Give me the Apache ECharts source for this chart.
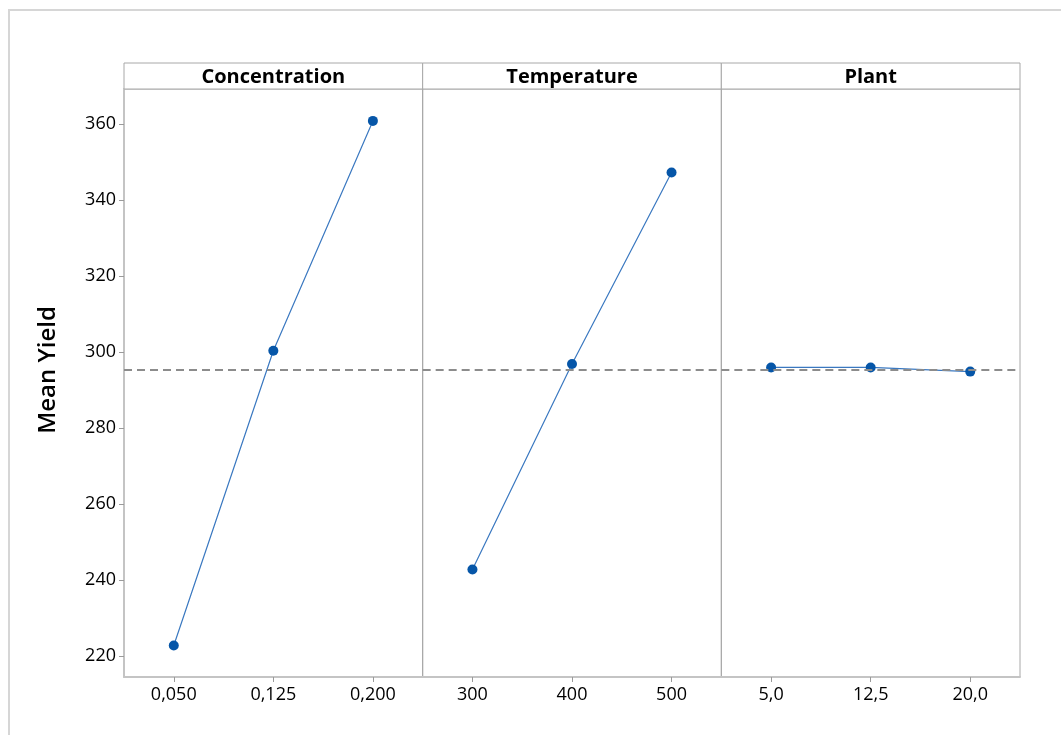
<!DOCTYPE html>
<html>
<head>
<meta charset="utf-8">
<script src="https://cdn.jsdelivr.net/npm/echarts@6/dist/echarts.min.js"></script>
<style>
  html, body { margin: 0; padding: 0; background: #fff; }
  #chart { width: 1061px; height: 735px; }
</style>
</head>
<body>
<div id="chart"></div>
<script>
// Main effects of each factor on mean yield
const factors = ['Concentration', 'Temperature', 'Plant'];
const concentrationLevels = ['0,050', '0,125', '0,200'];
const temperatureLevels = ['300', '400', '500'];
const plantLevels = ['5,0', '12,5', '20,0'];
const concentrationMeans = [222.8, 300.4, 360.9];
const temperatureMeans = [242.8, 296.9, 347.3];
const plantMeans = [296.0, 296.0, 294.9];
const grandMean = 295.4;
const yTicks = [220, 240, 260, 280, 300, 320, 340, 360];
const yTitle = 'Mean Yield';

const levels = [concentrationLevels, temperatureLevels, plantLevels];
const means = [concentrationMeans, temperatureMeans, plantMeans];

const FONT = '"Open Sans", "Noto Sans", sans-serif';
const plotLeft = 124, plotRight = 1020, plotTop = 89, plotBottom = 677, headerTop = 63;
const panelW = (plotRight - plotLeft) / factors.length;
const yMin = 214.5, yMax = 369.3;

const grids = [], xAxes = [], yAxes = [], series = [], graphics = [];

// outer frame
graphics.push({
  type: 'rect', silent: true, z: 0,
  shape: { x: 9, y: 10, width: 1100, height: 800 },
  style: { fill: 'none', stroke: '#d6d6d6', lineWidth: 2 }
});

// shared y-axis title
graphics.push({
  type: 'text', silent: true, z: 2,
  x: 48, y: 370, rotation: Math.PI / 2,
  style: { text: yTitle, fill: '#000', font: '600 24px ' + FONT, align: 'center', verticalAlign: 'middle' }
});

factors.forEach((name, i) => {
  const left = plotLeft + i * panelW;
  grids.push({
    left: left, top: plotTop, width: panelW, height: plotBottom - plotTop,
    show: true, borderColor: '#a8a8a8', borderWidth: 1, backgroundColor: 'transparent'
  });
  xAxes.push({
    type: 'category', gridIndex: i, data: levels[i], boundaryGap: true,
    axisLine: { show: true, lineStyle: { color: '#c4c4c4', width: 2 } },
    axisTick: { show: true, alignWithLabel: true, length: 5, lineStyle: { color: '#9a9a9a' } },
    axisLabel: { color: '#000', fontFamily: FONT, fontSize: 18, fontWeight: 500, margin: 9 },
    splitLine: { show: false }
  });
  yAxes.push({
    type: 'value', gridIndex: i, min: yMin, max: yMax,
    axisLine: { show: i === 0, lineStyle: { color: '#c4c4c4', width: 2 } },
    axisTick: { show: i === 0, length: 5, customValues: yTicks, lineStyle: { color: '#9a9a9a' } },
    axisLabel: { show: i === 0, customValues: yTicks, color: '#000', fontFamily: FONT, fontSize: 18, fontWeight: 500, margin: 8 },
    splitLine: { show: false }
  });
  series.push({
    type: 'line', xAxisIndex: i, yAxisIndex: i, data: means[i],
    symbol: 'circle', symbolSize: 10,
    lineStyle: { color: '#3a78c0', width: 1.2 },
    itemStyle: { color: '#0656a8' },
    markLine: {
      silent: true, symbol: 'none', label: { show: false },
      lineStyle: { color: '#8c8c8c', type: [8, 5], width: 1.8 },
      data: [{ yAxis: grandMean }]
    },
    z: 3
  });
  // factor header strip
  graphics.push({
    type: 'rect', silent: true, z: 1,
    shape: { x: left, y: headerTop, width: panelW, height: plotTop - headerTop },
    style: { fill: '#fff', stroke: '#a8a8a8', lineWidth: 1 }
  });
  graphics.push({
    type: 'text', silent: true, z: 2,
    x: left + panelW / 2, y: (headerTop + plotTop) / 2 + 1,
    style: { text: name, fill: '#000', font: '700 20px ' + FONT, align: 'center', verticalAlign: 'middle' }
  });
});

const chart = echarts.init(document.getElementById('chart'), null, { renderer: 'canvas' });
chart.setOption({
  animation: false,
  backgroundColor: '#fff',
  grid: grids, xAxis: xAxes, yAxis: yAxes, series: series,
  graphic: graphics
});
</script>
</body>
</html>
